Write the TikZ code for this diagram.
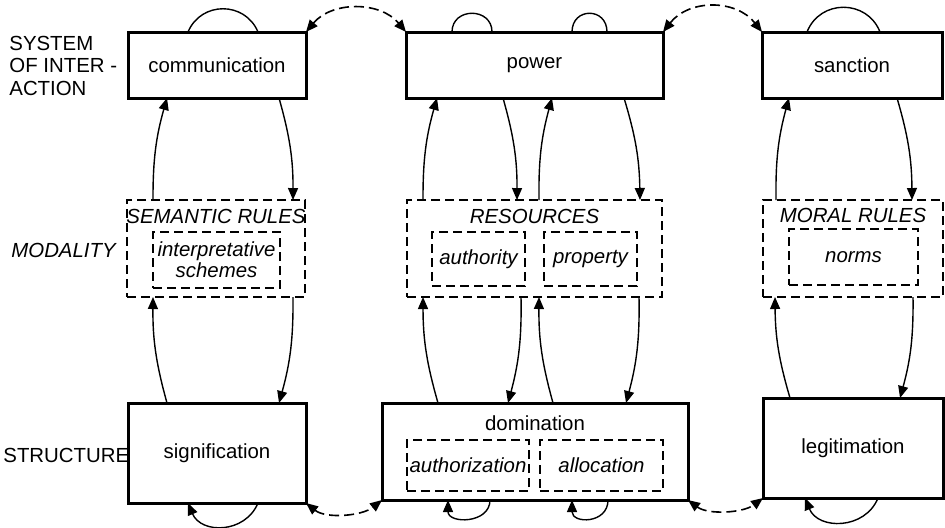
\documentclass[tikz,border=0pt]{standalone}
\usepackage{fontspec}
\setmainfont{Liberation Sans}
\usepackage{tikz}
\usetikzlibrary{arrows.meta, calc}

\begin{document}
\begin{tikzpicture}[
  x=0.5pt, y=-0.5pt,
  font=\fontsize{10.2}{12}\selectfont,
  >={Triangle[length=6pt,width=5pt]},
  mainbox/.style={rectangle, draw=black, line width=1.5pt, inner sep=0pt, outer sep=0pt},
  modbox/.style={rectangle, draw=black, line width=0.75pt, dash pattern=on 4.5pt off 2.5pt, inner sep=0pt, outer sep=0pt},
  subbox/.style={modbox, font=\fontsize{10.2}{10.5}\selectfont\itshape, align=center},
  title/.style={font=\fontsize{10.2}{12}\selectfont\itshape},
  rowlabel/.style={anchor=west, inner sep=0pt, align=left, font=\fontsize{10.2}{11.25}\selectfont},
  flow/.style={line width=0.7pt, ->},
  recur/.style={line width=0.7pt},
  link/.style={line width=0.8pt, <->, dash pattern=on 5pt off 2.5pt}
]
\useasboundingbox (0,0) rectangle (945,527);

\node (sysl) [rowlabel] at (9,65.5) {SYSTEM\\OF INTER -\\ACTION};
\node (modl) [rowlabel, font=\fontsize{10.2}{12}\selectfont\itshape] at (11,250) {MODALITY};
\node (strl) [rowlabel] at (3,455) {STRUCTURE};

\node (comm) [mainbox, minimum width=89pt, minimum height=33pt] at (217,65) {communication};
\node (power) [mainbox, minimum width=128.5pt, minimum height=33pt] at (534.5,65) {power};
\node (sanc) [mainbox, minimum width=90pt, minimum height=33pt] at (852,65) {sanction};

\node (sem) [modbox, minimum width=89pt, minimum height=48.5pt] at (216,248.5) {};
\node (res) [modbox, minimum width=127.5pt, minimum height=48.5pt] at (534.5,248.5) {};
\node (moral) [modbox, minimum width=90pt, minimum height=48.5pt] at (853,248.5) {};
\node (semtitle) [title] at (216,216) {SEMANTIC RULES};
\node (restitle) [title] at (534.5,216) {RESOURCES};
\node (moraltitle) [title] at (853,215) {MORAL RULES};
\node (interp) [subbox, minimum width=63.5pt, minimum height=28pt] at (216.5,260) {interpretative\\schemes};
\node (auth) [subbox, minimum width=46.5pt, minimum height=27pt] at (478.5,259) {authority};
\node (prop) [subbox, minimum width=46.5pt, minimum height=27pt] at (590.5,259) {property};
\node (norms) [subbox, minimum width=64.5pt, minimum height=28pt] at (853.5,257) {norms};

\node (sig) [mainbox, minimum width=89pt, minimum height=50pt] at (217,453) {signification};
\node (dom) [mainbox, minimum width=153pt, minimum height=48.5pt] at (535,451.5) {};
\node (domtitle) at (535,423) {domination};
\node (authz) [subbox, minimum width=61pt, minimum height=25.5pt] at (468,465.5) {authorization};
\node (alloc) [subbox, minimum width=61.5pt, minimum height=25.5pt] at (601.5,465.5) {allocation};
\node (legit) [mainbox, minimum width=90pt, minimum height=50pt] at (853,448) {legitimation};

\draw [flow] ($(sem.north west)+(26,0)$) to [bend left=8] ($(comm.south west)+(39,0)$);
\draw [flow] ($(comm.south west)+(151,0)$) to [bend left=8] ($(sem.north west)+(166,0)$);
\draw [flow] ($(sig.north west)+(39,0)$) to [bend left=8] ($(sem.south west)+(26,0)$);
\draw [flow] ($(sem.south west)+(166,0)$) to [bend left=8] ($(sig.north west)+(151,0)$);

\draw [flow] ($(res.north west)+(16,0)$) to [bend left=8] ($(power.south west)+(31,0)$);
\draw [flow] ($(power.south west)+(97,0)$) to [bend left=8] ($(res.north west)+(110,0)$);
\draw [flow] ($(res.north west)+(132,0)$) to [bend left=8] ($(power.south west)+(146,0)$);
\draw [flow] ($(power.south west)+(218,0)$) to [bend left=8] ($(res.north west)+(233,0)$);
\draw [flow] ($(dom.north west)+(56,0)$) to [bend left=8] ($(res.south west)+(16,0)$);
\draw [flow] ($(res.south west)+(114,0)$) to [bend left=8] ($(dom.north west)+(126,0)$);
\draw [flow] ($(dom.north west)+(171,0)$) to [bend left=8] ($(res.south west)+(132,0)$);
\draw [flow] ($(res.south west)+(232,0)$) to [bend left=8] ($(dom.north west)+(244,0)$);

\draw [flow] ($(moral.north west)+(13,0)$) to [bend left=8] ($(sanc.south west)+(27,0)$);
\draw [flow] ($(sanc.south west)+(135,0)$) to [bend left=8] ($(moral.north west)+(149,0)$);
\draw [flow] ($(legit.north west)+(27,0)$) to [bend left=8] ($(moral.south west)+(12,0)$);
\draw [flow] ($(moral.south west)+(150,0)$) to [bend left=8] ($(legit.north west)+(137,0)$);

\draw [recur] ($(comm.north west)+(60,0)$) .. controls +(13,-31) and +(-13,-31) .. ($(comm.north west)+(130,0)$);
\draw [recur] ($(power.north west)+(46,0)$) .. controls +(0,-25) and +(0,-25) .. ($(power.north west)+(86,0)$);
\draw [recur] ($(power.north west)+(166,0)$) .. controls +(0,-25) and +(0,-25) .. ($(power.north west)+(201,0)$);
\draw [recur] ($(sanc.north west)+(45,0)$) .. controls +(13,-33) and +(-13,-33) .. ($(sanc.north west)+(118,0)$);

\draw [recur, ->] ($(sig.south west)+(130,0)$) .. controls +(-13,31) and +(13,31) .. ($(sig.south west)+(60,0)$);
\draw [recur, ->] ($(dom.south west)+(108,0)$) .. controls +(0,24) and +(0,24) .. ($(dom.south west)+(66,0)$);
\draw [recur, ->] ($(dom.south west)+(226,0)$) .. controls +(0,24) and +(0,24) .. ($(dom.south west)+(190,0)$);
\draw [recur, ->] ($(legit.south west)+(115,0)$) .. controls +(-13,32) and +(13,32) .. ($(legit.south west)+(42,0)$);

\draw [link] (comm.north east) .. controls +(26,-31) and +(-26,-31) .. (power.north west);
\draw [link] (power.north east) .. controls +(26,-33) and +(-26,-33) .. (sanc.north west);
\draw [link] (sig.south east) .. controls +(20,16) and +(-20,16) .. (dom.south west);
\draw [link] (dom.south east) .. controls +(20,15) and +(-20,15) .. (legit.south west);
\end{tikzpicture}
\end{document}
